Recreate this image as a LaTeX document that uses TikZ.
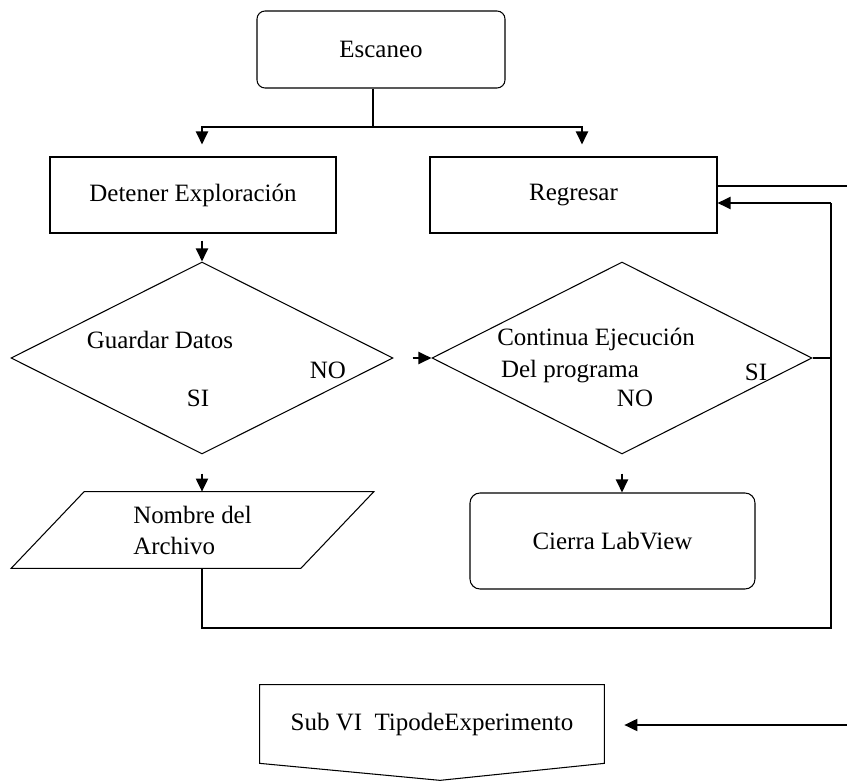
\documentclass[tikz,border=0pt]{standalone}
\usepackage{fontspec}
\setmainfont{Liberation Serif}
\usetikzlibrary{shapes.geometric,arrows.meta}

\begin{document}
\begin{tikzpicture}[
        font=\fontsize{14.2}{17.6}\selectfont,
        caja/.style={draw, line width=0.6pt, inner sep=0pt},
        wire/.style={line width=0.6pt},
        arr/.style={line width=1.1pt, -{Triangle[length=0.26cm,width=0.24cm]}}
    ]
                \useasboundingbox (0,0) rectangle (16.94,-15.62);

                % cajas
                \node[caja, rounded corners=0.16cm, minimum width=4.96cm, minimum height=1.54cm] (esc) at (7.62,-0.99) {Escaneo};
                \node[caja, minimum width=5.72cm, minimum height=1.52cm] (det) at (3.86,-3.90) {Detener Exploración};
                \node[caja, minimum width=5.74cm, minimum height=1.52cm] (reg) at (11.47,-3.90) {Regresar};
                \node[caja, diamond, minimum width=7.64cm, minimum height=3.84cm] (guard) at (4.04,-7.16) {};
                \node[caja, diamond, minimum width=7.60cm, minimum height=3.84cm] (cont) at (12.44,-7.16) {};
                \node[caja, rounded corners=0.2cm, minimum width=5.70cm, minimum height=1.92cm] (cie) at (12.25,-10.82) {Cierra LabView};
                \node[inner sep=0pt, minimum width=5.78cm, minimum height=1.52cm, align=left] (arch) at (3.85,-10.60) {Nombre del\\Archivo};
                \draw[wire] ([xshift=0.73cm]arch.north west) -- ([xshift=0.73cm]arch.north east)
                    -- ([xshift=-0.73cm]arch.south east) -- ([xshift=-0.73cm]arch.south west) -- cycle;
                \node[inner sep=0pt, minimum width=6.88cm, minimum height=1.56cm] (sub) at (8.64,-14.48) {Sub VI\ \ TipodeExperimento};
                \draw[wire] (sub.north west) -- (sub.north east) -- (sub.south east)
                    -- ([shift={(0.16,-0.34)}]sub.south) -- (sub.south west) -- cycle;

                % textos de los rombos
                \node[] (guardtxt) at (3.20,-6.80) {Guardar Datos};
                \node[] (guardno) at (6.56,-7.40) {NO};
                \node[] (guardsi) at (3.96,-7.96) {SI};
                \node[] (conttxt) at (11.92,-6.78) {Continua Ejecución};
                \node[] (conttxtb) at (11.40,-7.44) {Del programa};
                \node[] (contsi) at (15.12,-7.44) {SI};
                \node[] (contno) at (12.70,-7.96) {NO};

                % puntos de union
                \coordinate (split) at (7.46,-2.54);
                \coordinate (loop) at (16.62,-12.56);
                \coordinate (back) at (16.62,-4.06);
                \coordinate (out) at (16.94,-3.72);
                \coordinate (subin) at (16.94,-14.50);

                % flechas
                \draw[wire] (split |- esc.south) -- (split);
                \draw[arr, shorten >=0.24cm] (split) -| ([xshift=0.18cm]det.north);
                \draw[arr, shorten >=0.24cm] (split) -| ([xshift=0.17cm]reg.north);
                \draw[arr, shorten <=0.14cm] (det.south -| guard.north) -- (guard.north);
                \draw[arr, shorten <=0.38cm] (guard.east) -- (cont.west);
                \draw[arr, shorten <=0.38cm] (guard.south) -- (guard.south |- arch.north);
                \draw[arr, shorten <=0.38cm] (cont.south) -- (cont.south |- cie.north);
                \draw[wire] (guard.south |- arch.south) |- (loop) -- (back);
                \draw[wire] (cont.east) -- (cont.east -| back);
                \draw[arr] (back) -- (back -| reg.east);
                \draw[wire] (out -| reg.east) -- (out);
                \draw[arr, shorten >=0.40cm] (subin) -- (subin -| sub.east);
            \end{tikzpicture}
\end{document}
